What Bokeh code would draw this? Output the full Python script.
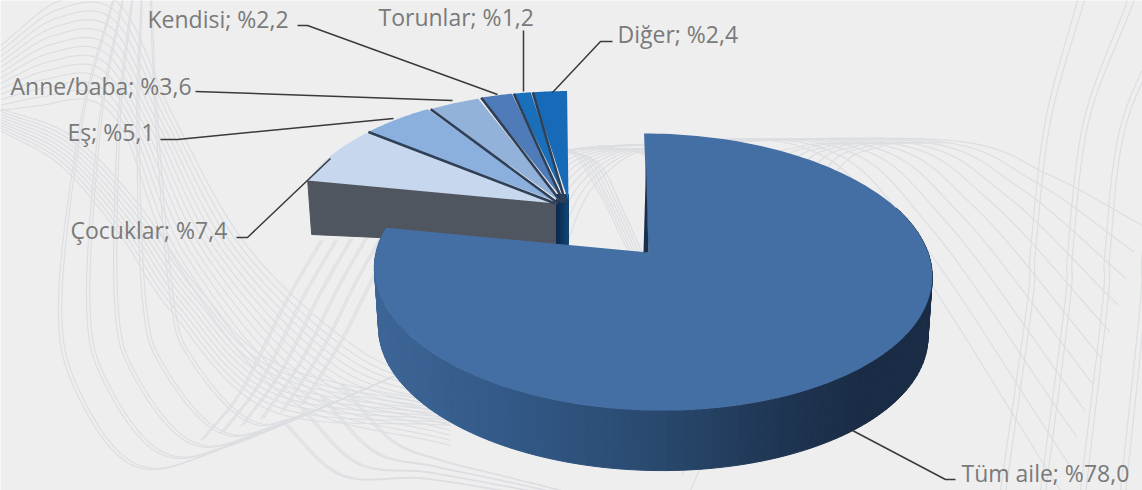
import numpy as np
from bokeh.plotting import figure
from bokeh.models import Range1d
from bokeh.embed import file_html
from bokeh.resources import INLINE
from bokeh.core.properties import value

categories = ["Tüm aile", "Çocuklar", "Eş", "Anne/baba", "Kendisi", "Torunlar", "Diğer"]
shares = [78.0, 7.4, 5.1, 3.6, 2.2, 1.2, 2.4]
share_labels = ["78,0", "7,4", "5,1", "3,6", "2,2", "1,2", "2,4"]
top_colors = ["#446fa5", "#c6d7ee", "#8bb0de", "#92b2da", "#4f7cb8", "#1a6fba", "#176ab7"]

label_pos = [(961, 472), (70, 229), (67, 131), (10, 85), (147, 18), (378, 16), (617, 33)]
leaders = [
    [(955, 479), (945, 479), (852, 430)],
    [(236, 237), (247, 237), (330, 158)],
    [(160, 139), (177, 139), (393, 118)],
    [(195, 91), (452, 100)],
    [(297, 25), (307, 25), (497, 94)],
    [(523, 30), (523, 91)],
    [(612, 41), (600, 41), (552, 92)],
]
small_apex = [(556, 203), (558, 202), (561, 202), (564, 201), (566, 201), (568, 201)]

p = figure(width=1142, height=490, x_range=Range1d(0, 1142), y_range=Range1d(490, 0),
           output_backend="svg", toolbar_location=None, min_border=0,
           background_fill_color="#eeeeee", border_fill_color="#eeeeee", outline_line_color=None)
p.axis.visible = False
p.grid.visible = False

# ---- decorative background curves ----
def spline(keys, m=24):
    k = np.array(keys, float)
    k = np.vstack([2 * k[0] - k[1], k, 2 * k[-1] - k[-2]])
    out = []
    for i in range(1, len(k) - 2):
        t = np.linspace(0, 1, m)[:, None]
        a, b, c, d = k[i - 1], k[i], k[i + 1], k[i + 2]
        out.append(0.5 * (2 * b + (c - a) * t + (2 * a - 5 * b + 4 * c - d) * t ** 2 + (3 * b - a - 3 * c + d) * t ** 3))
    return np.vstack(out)

def family(a, b, ts):
    a, b = np.array(a, float), np.array(b, float)
    xs, ys = [], []
    for t in ts:
        c = spline(a + (b - a) * t)
        xs.append(c[:, 0].tolist()); ys.append(c[:, 1].tolist())
    p.multi_line(xs, ys, line_color="#dcdee2", line_width=1.2)

pairs = lambda n, d=0.03: [i / (n - 1) + s for i in range(n) for s in (0, d)]
family([(112, 0), (80, 120), (58, 300), (75, 390), (135, 466), (230, 445), (430, 360)],
       [(150, 0), (155, 120), (170, 300), (190, 360), (245, 420), (300, 415), (430, 360)], pairs(5))
family([(0, 108), (70, 135), (135, 200), (200, 290), (280, 365), (450, 405)],
       [(0, 130), (60, 165), (120, 235), (170, 310), (270, 410), (450, 425)], np.linspace(0, 1, 9))
family([(0, 45), (60, 0), (120, 5), (175, 120), (250, 250), (360, 350), (450, 385)],
       [(0, 110), (40, 105), (90, 100), (125, 135), (175, 260), (290, 400), (450, 445)], np.linspace(0, 1, 13))
family([(560, 150), (700, 142), (950, 140), (1050, 175), (1142, 225)],
       [(560, 150), (620, 145), (800, 146), (900, 240), (1060, 490)], np.linspace(0, 1, 11))
family([(690, 490), (760, 330), (830, 180), (880, 146), (950, 142)],
       [(640, 400), (700, 290), (760, 170), (800, 146), (860, 142)], np.linspace(0, 1, 7))
family([(480, 300), (540, 175), (610, 148), (680, 175), (760, 260)],
       [(560, 260), (590, 190), (640, 150), (690, 155), (790, 200)], np.linspace(0, 1, 9))
family([(568, 150), (600, 165), (625, 215), (655, 280), (690, 340)],
       [(540, 150), (570, 150), (600, 195), (625, 245), (650, 290)], np.linspace(0, 1, 6))
family([(200, 440), (240, 390), (285, 300), (320, 240)],
       [(300, 405), (340, 340), (370, 280), (395, 235)], pairs(6))
family([(280, 420), (340, 475), (420, 478), (500, 490), (560, 500)],
       [(340, 385), (390, 440), (440, 460), (500, 475), (560, 490)], pairs(4))
family([(1077, 0), (1045, 120), (1030, 250), (1027, 300), (1000, 490)],
       [(1227, 0), (1160, 120), (1142, 250), (1140, 300), (1120, 490)], pairs(4, 0.045))

# ---- pie geometry: perspective projected disc ----
ang = np.cumsum([0] + shares) * 3.6  # degrees clockwise from top
K = 0.141

def rim(a_deg, r, apex, rx, ry, sx):
    a = np.radians(a_deg)
    u, v = r * np.sin(a), r * np.cos(a)
    w = 1 + K * v
    return apex[0] + (rx * u + sx * v) / w, apex[1] - ry * v / w

def grad(x):
    stops_x = [372, 500, 650, 780, 860, 931]
    stops_c = np.array([[0x3d, 0x66, 0x97], [0x33, 0x5a, 0x88], [0x2a, 0x4a, 0x70],
                        [0x1f, 0x36, 0x53], [0x1a, 0x2c, 0x45], [0x1a, 0x2c, 0x45]])
    c = [int(np.interp(x, stops_x, stops_c[:, i])) for i in range(3)]
    return "#%02x%02x%02x" % tuple(c)

# small slices: walls first
S = dict(rx=260, ry=126, sx=0)
cx0, cy0 = rim(ang[1], 1, small_apex[0], **S)
cx1, cy1 = small_apex[0]
p.patch([cx0, cx1, cx1, cx0 + 4], [cy0, cy1, cy1 + 42, cy0 + 54], fill_color="#50565f", line_color="#50565f")
xe = np.linspace(556, 568, 7)
for i in range(6):
    mix = i / 5
    col = "#%02x%02x%02x" % (int(13 + 3 * mix), int(42 + 24 * mix), int(77 + 35 * mix))
    p.quad(left=xe[i], right=xe[i + 1], top=194, bottom=244, fill_color=col, line_color=col)

# small slice tops
for i in range(1, 7):
    apex = small_apex[i - 1]
    t = np.linspace(ang[i], ang[i + 1], 24)
    x, y = rim(t, 1, apex, **S)
    p.patch([apex[0]] + x.tolist(), [apex[1]] + y.tolist(), fill_color=top_colors[i], line_color=None)
for i in range(2, 7):
    apex = small_apex[i - 1]
    x, y = rim(np.array([ang[i]]), 1, apex, **S)
    p.line([x[0], apex[0] - 3], [y[0], apex[1] + 1], line_color="#2f3f55", line_width=2.6)

# main slice wall
M = dict(apex=(648, 252), rx=276, ry=135.8, sx=-9.1)
SHIFT = 3.5
a = np.linspace(70, ang[1], 130)
tx, ty = rim(a, 1, **M)
tx = tx + SHIFT
bx, by = 651 + (tx - 651) * 0.985, ty + 60
xs = [[tx[i], tx[i + 1], bx[i + 1], bx[i]] for i in range(len(a) - 1)]
ys = [[ty[i], ty[i + 1], by[i + 1], by[i]] for i in range(len(a) - 1)]
cols = [grad((tx[i] + tx[i + 1]) / 2) for i in range(len(a) - 1)]
p.patches(xs, ys, fill_color=cols, line_color=cols, line_width=1)

# main slice top
t = np.linspace(ang[0], ang[1], 180)
x, y = rim(t, 1, **M)
x = x + SHIFT
p.patch([M["apex"][0]] + x.tolist(), [M["apex"][1]] + y.tolist(), fill_color=top_colors[0], line_color=None)
wx, wy = rim(np.array([0.0]), 0.72, **M)
p.patch([wx[0] + SHIFT, 648, 643], [wy[0], 252, 252], fill_color="#1a2f4c", line_color=None)

# leaders and labels
for l in leaders:
    p.line([q[0] for q in l], [q[1] for q in l], line_color="#3a3a3a", line_width=1.5)
texts = [f"{c}; %{s}" for c, s in zip(categories, share_labels)]
p.text([q[0] for q in label_pos], [q[1] for q in label_pos], text=texts, text_font=value("Open Sans"),
       text_font_size="23px", text_color="#7a7a7a", text_align="left", text_baseline="middle")

TEMPLATE = """<!DOCTYPE html>
<html lang="en"><head><meta charset="utf-8"><title>chart</title>
{{ bokeh_css }}{{ bokeh_js }}
<style>html,body{background:#eeeeee;margin:0;padding:0;overflow:hidden;}</style></head>
<body>{{ plot_div }}{{ plot_script }}</body></html>"""
open("out.html", "w").write(file_html(p, INLINE, template=TEMPLATE))
